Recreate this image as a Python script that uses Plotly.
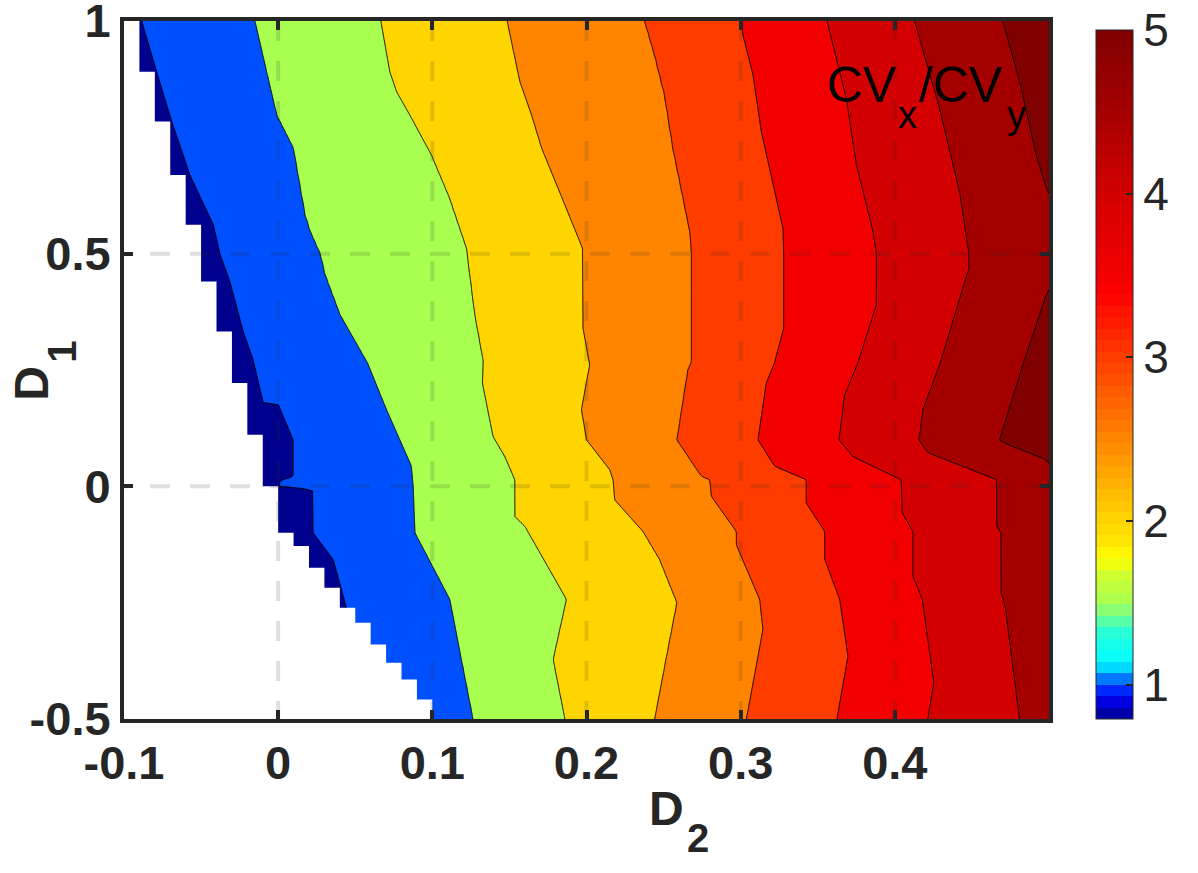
import numpy as np
import plotly.graph_objects as go

# ---------------- data ----------------
x_ticks = [-0.1, 0, 0.1, 0.2, 0.3, 0.4]
x_tick_labels = ["-0.1", "0", "0.1", "0.2", "0.3", "0.4"]
y_ticks = [-0.5, 0, 0.5, 1]
y_tick_labels = ["-0.5", "0", "0.5", "1"]
cb_ticks = [1, 2, 3, 4, 5]
grid_x = [0, 0.1, 0.2, 0.3, 0.4]
grid_y = [0, 0.5]

levels = [1, 1.5, 2, 2.5, 3, 3.5, 4, 4.5, 5]

# contour-line vertices: D1 (y) and D2 (x) for every level
c1_d1 = [1.0, 0.891, 0.784, 0.669, 0.562, 0.50, 0.44, 0.333, 0.272, 0.18, 0.177, 0.10, 0.021, 0.012, 0.0, -0.007, -0.10, -0.157, -0.261, -0.35, -0.50]
c1_d2 = [-0.0885, -0.0788, -0.069, -0.0572, -0.042, -0.0378, -0.0313, -0.0227, -0.0162, -0.0097, 0.0, 0.0097, 0.0097, 0.001, 0.001, 0.0223, 0.0227, 0.0357, 0.0443, 0.047, 0.05]

c15_d1 = [1.0, 0.798, 0.727, 0.583, 0.548, 0.50, 0.455, 0.369, 0.265, 0.165, 0.0436, 0.0, -0.10, -0.243, -0.50]
c15_d2 = [-0.0151, -0.001, 0.0098, 0.0173, 0.0206, 0.0271, 0.0303, 0.040, 0.058, 0.0703, 0.0865, 0.0876, 0.0887, 0.1113, 0.1265]

c2_d1 = [1.0, 0.891, 0.848, 0.798, 0.712, 0.619, 0.512, 0.369, 0.27, 0.222, 0.107, 0.064, 0.014, -0.065, -0.086, -0.243, -0.372, -0.50]
c2_d2 = [0.0666, 0.0724, 0.0768, 0.0854, 0.0995, 0.1113, 0.1222, 0.1276, 0.133, 0.1325, 0.1394, 0.147, 0.1535, 0.1535, 0.160, 0.187, 0.1783, 0.186]

c25_d1 = [1.0, 0.870, 0.798, 0.727, 0.512, 0.34, 0.261, 0.165, 0.10, 0.0357, 0.0144, -0.029, -0.097, -0.157, -0.25, -0.50]
c25_d2 = [0.1485, 0.1567, 0.1643, 0.1708, 0.1974, 0.1977, 0.2021, 0.1967, 0.200, 0.2151, 0.2172, 0.2183, 0.2367, 0.2475, 0.2587, 0.2442]

c3_d1 = [1.0, 0.927, 0.841, 0.727, 0.548, 0.50, 0.268, 0.25, 0.10, 0.0214, 0.0143, -0.0215, -0.097, -0.126, -0.243, -0.307, -0.50]
c3_d2 = [0.2378, 0.2442, 0.2507, 0.2561, 0.267, 0.2681, 0.2681, 0.2658, 0.2587, 0.2745, 0.2799, 0.281, 0.2972, 0.2972, 0.3123, 0.3145, 0.3037]

c35_d1 = [1.0, 0.97, 0.884, 0.762, 0.555, 0.50, 0.34, 0.266, 0.222, 0.10, 0.043, 0.0144, -0.036, -0.097, -0.157, -0.243, -0.365, -0.50]
c35_d2 = [0.3004, 0.3015, 0.308, 0.3134, 0.3274, 0.3279, 0.3279, 0.322, 0.3166, 0.3112, 0.322, 0.3425, 0.3425, 0.3545, 0.3545, 0.3642, 0.3696, 0.3624]

c4_d1 = [1.0, 0.834, 0.691, 0.548, 0.50, 0.39, 0.266, 0.196, 0.10, 0.064, 0.0144, -0.057, -0.097, -0.193, -0.243, -0.422, -0.50]
c4_d2 = [0.356, 0.3685, 0.375, 0.3858, 0.388, 0.388, 0.3761, 0.3674, 0.3638, 0.3728, 0.4041, 0.4048, 0.4117, 0.4117, 0.4178, 0.4253, 0.4214]

c45_d1 = [1.0, 0.812, 0.633, 0.50, 0.469, 0.266, 0.165, 0.10, 0.072, 0.0144, -0.086, -0.10, -0.229, -0.258, -0.50]
c45_d2 = [0.4128, 0.429, 0.442, 0.448, 0.448, 0.4295, 0.4182, 0.4156, 0.4214, 0.4662, 0.4662, 0.469, 0.469, 0.4716, 0.4809]

c5_d1 = [1.0, 0.870, 0.712, 0.641, 0.60, 0.50, 0.45, 0.412, 0.266, 0.10, 0.093, 0.057, 0.0, -0.50]
c5_d2 = [0.47, 0.4809, 0.4917, 0.4982, 0.505, 0.51, 0.505, 0.4982, 0.4835, 0.4679, 0.4711, 0.4982, 0.51, 0.53]

# region where CVx/CVy is undefined: for each 0.01-wide D2 column, D1 below which it is blank
nan_col_left = [-0.10, -0.09, -0.08, -0.07, -0.06, -0.05, -0.04, -0.03, -0.02, -0.01,
                0.00, 0.01, 0.02, 0.03, 0.04, 0.05, 0.06, 0.07, 0.08, 0.09]
nan_below_d1 = [1.0, 0.891, 0.784, 0.669, 0.562, 0.44, 0.333, 0.222, 0.111, 0.0,
                -0.10, -0.128, -0.175, -0.218, -0.261, -0.293, -0.34, -0.379, -0.415, -0.458]
nan_col_width = 0.01

# fill colours of the bands (below 1, 1-1.5, ..., above 5)
band_colors = ["#00008F", "#0050FF", "#A8FF50", "#FFD500", "#FF8500",
               "#FF3C00", "#F20000", "#D20000", "#A50000", "#800000"]

# colour bar colormap
cb_min, cb_max = 0.79, 5.0
cb_vals = [0.79, 0.87, 0.93, 1.0, 1.07, 1.13, 1.3, 1.4, 1.5, 1.67, 1.77, 1.9, 2.0, 2.5, 3.0, 3.4, 3.5, 4.0, 4.5, 5.0]
cb_cols = ["#00008F", "#0000C8", "#0000FF", "#0050FF", "#00A0FF", "#00FFFF", "#20FFE0", "#60FFA0",
           "#A8FF50", "#D0FF30", "#FFFF00", "#FFE000", "#FFD500", "#FF8500", "#FF3C00", "#FF0000",
           "#F20000", "#D20000", "#A50000", "#800000"]

# ---------------- build the field from the contour lines ----------------
contour_lines = [(c1_d1, c1_d2), (c15_d1, c15_d2), (c2_d1, c2_d2), (c25_d1, c25_d2),
                 (c3_d1, c3_d2), (c35_d1, c35_d2), (c4_d1, c4_d2), (c45_d1, c45_d2),
                 (c5_d1, c5_d2)]
xg = np.round(np.arange(-0.1, 0.5 + 1e-9, 0.0025), 5)
yg = np.round(np.arange(-0.5, 1.0 + 1e-9, 0.005), 5)
Z = []
for yv in yg:
    xs = []
    for d1, d2 in contour_lines:
        d1a = np.array(d1)[::-1]
        d2a = np.array(d2)[::-1]
        xs.append(float(np.interp(yv, d1a, d2a)))
    kx = [xs[0] - (xs[1] - xs[0])] + xs + [xs[-1] + (xs[-1] - xs[-2])]
    kz = [0.5] + levels + [5.5]
    Z.append(np.round(np.interp(xg, kx, kz), 4).tolist())

# blank (undefined) region outline, staircase from the columns
mask_px = [nan_col_left[0]]
mask_py = [-0.5]
for xl, thr in zip(nan_col_left, nan_below_d1):
    mask_px += [xl, xl + nan_col_width]
    mask_py += [thr, thr]
mask_px += [nan_col_left[-1] + nan_col_width, nan_col_left[0]]
mask_py += [-0.5, -0.5]


def hex2rgb(h):
    return [int(h[i:i + 2], 16) for i in (1, 3, 5)]


rgb = np.array([hex2rgb(c) for c in cb_cols], dtype=float)
nsteps = 60
cb_scale = []
for k in range(nsteps):
    v = cb_min + (cb_max - cb_min) * (k + 0.5) / nsteps
    col = [int(round(np.interp(v, cb_vals, rgb[:, i]))) for i in range(3)]
    cs = "rgb(%d,%d,%d)" % tuple(col)
    cb_scale.append([k / nsteps, cs])
    cb_scale.append([(k + 1) / nsteps, cs])

# ---------------- figure ----------------
FONT = "Liberation Sans, Arial, Helvetica, sans-serif"
AX = "#262626"
W, H = 1198, 873
L, R, T, B = 124, 148.5, 21, 153.5
PW, PH = W - L - R, H - T - B


def pxx(px):
    return (px - L) / PW


def pxy(py):
    return (H - B - py) / PH


fig = go.Figure()
fig.add_trace(go.Contour(
    x=xg, y=yg, z=Z,
    contours=dict(start=levels[0], end=levels[-1], size=0.5, coloring="fill"),
    colorscale=[[k / 9, c] for k, c in enumerate(band_colors)],
    showscale=False,
    line=dict(color="black", width=1, smoothing=0),
    hoverinfo="skip",
))
fig.add_trace(go.Scatter(
    x=mask_px, y=mask_py, mode="lines", fill="toself", fillcolor="white",
    line=dict(width=0, color="white"), hoverinfo="skip", showlegend=False,
))
fig.add_trace(go.Scatter(
    x=[None], y=[None], mode="markers", showlegend=False, hoverinfo="skip",
    marker=dict(color=[cb_min], cmin=cb_min, cmax=cb_max, colorscale=cb_scale, showscale=True,
                colorbar=dict(x=pxx(1097), xanchor="left", y=0, yanchor="bottom",
                              len=689, lenmode="pixels", thickness=37, thicknessmode="pixels",
                              xpad=0, ypad=0, outlinewidth=1, outlinecolor=AX,
                              ticks="inside", ticklen=7, tickwidth=2, tickcolor=AX,
                              tickvals=cb_ticks, ticktext=[str(t) for t in cb_ticks],
                              tickfont=dict(family=FONT, size=46, color=AX))),
))

shapes = []
for gx in grid_x:
    shapes.append(dict(type="line", xref="x", yref="y", x0=gx, x1=gx, y0=1, y1=-0.5, layer="above",
                       line=dict(color="rgba(38,38,38,0.15)", width=4, dash="20px,20px")))
for gy in grid_y:
    shapes.append(dict(type="line", xref="x", yref="y", x0=-0.1, x1=0.5, y0=gy, y1=gy, layer="above",
                       line=dict(color="rgba(38,38,38,0.15)", width=4, dash="6px,20px,14px,0px")))

axis_common = dict(ticks="inside", ticklen=9, tickwidth=4, tickcolor=AX, showline=True, linewidth=4,
                   linecolor=AX, mirror="ticks", showgrid=False, zeroline=False,
                   ticklabeloverflow="allow", automargin=False,
                   tickfont=dict(family=FONT, size=47, color=AX, weight="bold"))


def ann(text, px, py, size, bold=False, color="black", angle=0, xanchor="left"):
    return dict(text=text, xref="paper", yref="paper", x=pxx(px), y=pxy(py),
                xanchor=xanchor, yanchor="middle", showarrow=False, textangle=angle,
                font=dict(family=FONT, size=size, color=color, weight="bold" if bold else "normal"))


annotations = [
    # CVx/CVy label
    ann("CV", 825.5, 84.7, 50),
    ann("x", 896, 114.8, 38),
    ann("/CV", 917, 84.7, 50),
    ann("y", 1005, 114.8, 38),
    # x-axis title D2
    ann("D", 666.5, 809.5, 48, bold=True, color=AX, xanchor="center"),
    ann("2", 698, 839, 40, bold=True, color=AX, xanchor="center"),
    # y-axis title D1 (rotated)
    ann("D", 31.5, 383.5, 48, bold=True, color=AX, angle=-90, xanchor="center"),
    ann("1", 62, 352, 40, bold=True, color=AX, angle=-90, xanchor="center"),
]

fig.update_layout(
    width=W, height=H,
    margin=dict(l=L, r=R, t=T, b=B, autoexpand=False),
    paper_bgcolor="white", plot_bgcolor="white",
    showlegend=False,
    xaxis=dict(range=[-0.1, 0.5], tickvals=x_ticks, ticktext=x_tick_labels, **axis_common),
    yaxis=dict(range=[-0.5, 1.00001], tickvals=y_ticks, ticktext=y_tick_labels, **axis_common),
    shapes=shapes,
    annotations=annotations,
)

fig.write_html("out.html")
